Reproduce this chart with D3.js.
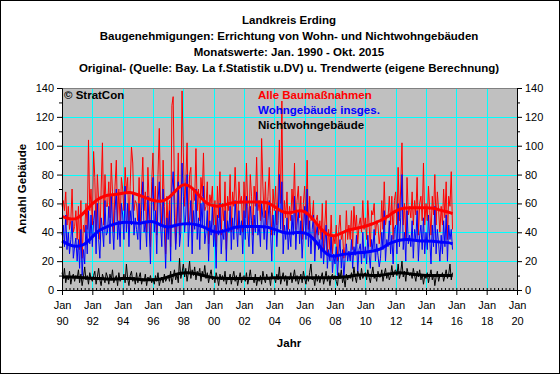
<!DOCTYPE html>
<html>
<head>
<meta charset="utf-8">
<script src="https://cdn.jsdelivr.net/npm/d3@7"></script>
<style>
  body { margin: 0; background: #fff; }
  text { font-family: "Liberation Sans", Arial, sans-serif; }
  .title { font-size: 11.5px; font-weight: bold; }
  .tick text { font-size: 11px; }
  .lbl { font-size: 11.5px; font-weight: bold; }
</style>
</head>
<body>
<div id="chart"></div>
<script>
// ---------- DATA ----------
// monthly values, Jan 1990 - Oct 2015
const alleBau = [
  58, 62, 55, 68, 45, 58, 42, 48, 70, 40, 44, 55, // 1990
  35, 58, 28, 62, 22, 45, 40, 60, 42, 104, 55, 70, // 1991
  45, 96, 78, 38, 80, 62, 35, 70, 102, 45, 80, 58, // 1992
  58, 75, 50, 88, 68, 40, 72, 90, 48, 70, 45, 78, // 1993
  70, 55, 85, 68, 78, 42, 72, 99, 88, 55, 62, 60, // 1994
  48, 78, 45, 70, 92, 55, 68, 40, 85, 60, 30, 75, // 1995
  95, 55, 72, 38, 80, 112, 60, 45, 90, 58, 25, 65, // 1996
  40, 62, 30, 128, 134, 70, 32, 58, 95, 38, 50, 138, // 1997
  95, 58, 75, 102, 45, 80, 85, 40, 70, 62, 98, 55, // 1998
  70, 48, 78, 65, 95, 55, 58, 75, 32, 66, 60, 72, // 1999
  45, 62, 30, 72, 50, 82, 38, 60, 48, 75, 28, 65, // 2000
  55, 80, 40, 68, 58, 85, 62, 42, 75, 60, 65, 40, // 2001
  75, 50, 88, 58, 45, 80, 65, 38, 72, 58, 92, 55, // 2002
  62, 48, 105, 72, 50, 75, 45, 65, 85, 55, 38, 70, // 2003
  55, 72, 45, 68, 104, 60, 131, 40, 62, 50, 68, 42, // 2004
  58, 48, 70, 55, 88, 42, 62, 72, 50, 65, 35, 60, // 2005
  72, 45, 90, 42, 65, 48, 50, 62, 28, 48, 52, 38, // 2006
  48, 35, 60, 28, 45, 62, 25, 42, 28, 52, 25, 38, // 2007
  32, 45, 20, 42, 52, 35, 40, 22, 30, 55, 35, 45, // 2008
  35, 55, 28, 58, 42, 52, 32, 45, 50, 40, 62, 42, // 2009
  50, 35, 62, 45, 30, 55, 52, 60, 38, 48, 45, 32, // 2010
  40, 62, 42, 75, 45, 52, 50, 65, 45, 65, 35, 62, // 2011
  68, 45, 85, 48, 70, 102, 45, 60, 35, 78, 52, 58, // 2012
  50, 68, 45, 62, 52, 78, 38, 60, 65, 48, 88, 45, // 2013
  60, 48, 72, 55, 38, 65, 52, 80, 45, 68, 55, 40, // 2014
  58, 45, 70, 50, 75, 35, 65, 58, 82, 42          // 2015
];

const wohnGeb = [
  38, 45, 30, 52, 28, 40, 25, 35, 48, 22, 30, 36,
  20, 35, 15, 42, 10, 28, 18, 45, 25, 55, 32, 52,
  30, 48, 55, 25, 60, 35, 22, 50, 42, 30, 62, 38,
  40, 58, 32, 65, 45, 28, 55, 70, 35, 48, 30, 60,
  52, 35, 72, 40, 60, 30, 55, 45, 68, 38, 50, 42,
  35, 60, 28, 55, 75, 40, 48, 30, 65, 45, 18, 58,
  78, 40, 55, 25, 62, 75, 45, 30, 70, 42, 15, 50,
  35, 55, 20, 70, 82, 50, 28, 45, 75, 30, 40, 88,
  65, 40, 52, 80, 30, 48, 62, 25, 55, 42, 70, 35,
  50, 28, 60, 45, 72, 32, 40, 55, 20, 48, 38, 58,
  30, 45, 15, 52, 38, 60, 25, 42, 35, 55, 20, 48,
  40, 58, 28, 50, 35, 62, 45, 30, 55, 38, 48, 25,
  55, 35, 65, 42, 30, 58, 48, 25, 52, 40, 68, 38,
  45, 30, 60, 50, 35, 55, 28, 48, 62, 40, 20, 52,
  38, 55, 30, 48, 80, 42, 75, 25, 45, 35, 50, 28,
  42, 30, 52, 38, 65, 28, 45, 55, 32, 48, 22, 40,
  58, 35, 70, 30, 48, 25, 42, 52, 20, 38, 45, 28,
  35, 22, 40, 18, 32, 45, 15, 28, 20, 38, 12, 25,
  18, 30, 10, 25, 35, 15, 28, 8, 22, 32, 20, 27,
  20, 35, 15, 30, 24, 38, 12, 28, 32, 18, 40, 22,
  30, 18, 38, 25, 15, 35, 28, 42, 20, 32, 24, 16,
  22, 40, 28, 55, 20, 35, 30, 48, 25, 38, 18, 42,
  45, 25, 60, 30, 50, 80, 28, 40, 20, 55, 32, 38,
  30, 48, 22, 42, 35, 55, 20, 38, 45, 28, 50, 25,
  40, 28, 52, 35, 18, 45, 30, 58, 25, 42, 32, 20,
  38, 25, 48, 30, 52, 20, 45, 35, 42, 28
];

const nichtWohn = [
  12, 8, 15, 5, 10, 7, 13, 4, 9, 11, 6, 10,
  8, 14, 5, 11, 3, 9, 16, 7, 10, 4, 12, 8,
  6, 10, 13, 4, 9, 15, 7, 3, 11, 8, 5, 12,
  9, 4, 11, 7, 14, 5, 8, 10, 3, 12, 6, 9,
  7, 11, 5, 18, 8, 3, 10, 13, 6, 9, 4, 12,
  5, 9, 12, 4, 8, 6, 11, 3, 9, 7, 10, 5,
  8, 4, 10, 6, 12, 3, 7, 9, 5, 11, 6, 8,
  10, 6, 13, 4, 9, 14, 7, 11, 5, 22, 8, 12,
  18, 9, 15, 6, 12, 20, 8, 14, 10, 16, 7, 13,
  11, 15, 6, 13, 9, 17, 8, 12, 5, 10, 14, 7,
  9, 5, 12, 8, 3, 11, 7, 10, 6, 13, 4, 9,
  7, 11, 4, 9, 13, 6, 10, 3, 8, 12, 5, 9,
  10, 6, 12, 4, 8, 14, 7, 9, 5, 11, 3, 8,
  6, 10, 4, 13, 8, 5, 11, 7, 9, 3, 12, 8,
  9, 5, 11, 7, 16, 4, 8, 12, 6, 10, 3, 9,
  7, 12, 5, 9, 14, 6, 10, 4, 8, 11, 5, 13,
  8, 4, 10, 6, 12, 18, 7, 9, 3, 11, 6, 10,
  5, 9, 12, 4, 8, 13, 6, 10, 3, 9, 11, 7,
  10, 6, 3, 12, 8, 14, 5, 9, 2, 11, 7, 10,
  8, 12, 6, 16, 9, 5, 13, 10, 7, 15, 8, 11,
  12, 7, 14, 9, 5, 11, 16, 8, 10, 6, 13, 9,
  9, 14, 6, 11, 15, 8, 12, 7, 10, 17, 9, 13,
  14, 10, 18, 8, 12, 20, 9, 13, 6, 15, 11, 10,
  12, 8, 15, 10, 6, 13, 9, 14, 7, 11, 4, 10,
  8, 12, 5, 10, 14, 7, 11, 3, 9, 13, 6, 10,
  9, 12, 6, 10, 14, 8, 11, 18, 7, 12
];

// trend values every 6 months (Jan / Jul), last point Oct 2015
const trendAlle = [
  51, 49, 49, 54, 60, 64, 66, 66, 67, 68, 66, 64, 62, 61, 63, 69, 74, 72,
  66, 60, 58, 58, 60, 61, 61, 61, 61, 61, 58, 54, 53, 55, 55, 50, 43, 38,
  37, 40, 42, 43, 44, 46, 48, 51, 55, 57, 57, 57, 57, 57, 55, 54, 53
];
const trendWohn = [
  34, 31, 30, 31, 37, 42, 44, 46, 47, 47, 46, 47, 48, 45, 43, 45, 46, 46,
  45, 43, 40, 40, 42, 44, 44, 44, 44, 44, 42, 40, 39, 40, 40, 37, 30, 24,
  23, 25, 25, 26, 26, 27, 28, 32, 34, 35, 35, 34, 34, 34, 33, 33, 32
];
const trendNicht = [
  9, 9, 9, 8.5, 8, 8, 7.5, 7.5, 8, 8, 7.5, 7, 7, 7.5, 9, 11, 12, 12,
  11, 9.5, 8.5, 8, 8, 8, 8, 8, 8, 8, 8.5, 8.5, 8.5, 8.5, 8.5, 8.5, 8.5, 8.5,
  8.5, 9, 9.5, 10.5, 10.5, 10, 10, 11, 12, 12, 11, 10.5, 10, 10, 10, 10, 10
];

const titleLines = [
  "Landkreis Erding",
  "Baugenehmigungen: Errichtung von Wohn- und Nichtwohngebäuden",
  "Monatswerte: Jan. 1990 - Okt. 2015",
  "Original- (Quelle: Bay. La f.Statistik u.DV) u. Trendwerte (eigene Berechnung)"
];
const legendNames = ["Alle Baumaßnahmen", "Wohngebäude insges.", "Nichtwohngebäude"];
const colors = ["#ff0000", "#0000ff", "#000000"];
const yTicks = [0, 20, 40, 60, 80, 100, 120, 140];

// ---------- CHART ----------
const W = 560, H = 374;
const pLeft = 62, pRight = 517, pTop = 88, pBottom = 290;

const svg = d3.select("#chart").append("svg")
  .attr("width", W).attr("height", H);

svg.append("rect")
  .attr("x", 0.5).attr("y", 0.5)
  .attr("width", W - 1).attr("height", H - 1)
  .attr("fill", "#fff").attr("stroke", "#000");

const x = d3.scaleTime()
  .domain([new Date(1990, 0, 1), new Date(2020, 0, 1)])
  .range([pLeft, pRight]);
const y = d3.scaleLinear().domain([0, 140]).range([pBottom, pTop]);

const monthDate = (i) => new Date(1990, i, 1);
const trendIdx = d3.range(0, 312, 6).concat([309]);

// plot area
svg.append("rect")
  .attr("x", pLeft).attr("y", pTop)
  .attr("width", pRight - pLeft).attr("height", pBottom - pTop)
  .attr("fill", "#c0c0c0");

// grid
const grid = svg.append("g").attr("stroke", "#00ffff").attr("stroke-width", 1);
grid.selectAll(".gy")
  .data(yTicks.filter((d) => d > 0 && d < 140))
  .enter().append("line")
  .attr("x1", pLeft).attr("x2", pRight)
  .attr("y1", (d) => Math.round(y(d)) + 0.5).attr("y2", (d) => Math.round(y(d)) + 0.5);
const yearTicks = d3.timeYear.every(2).range(new Date(1990, 0, 1), new Date(2020, 0, 2));
grid.selectAll(".gx")
  .data(yearTicks.slice(1, -1))
  .enter().append("line")
  .attr("y1", pTop).attr("y2", pBottom)
  .attr("x1", (d) => Math.round(x(d)) + 0.5).attr("x2", (d) => Math.round(x(d)) + 0.5);

svg.append("line")
  .attr("x1", pLeft).attr("x2", pRight)
  .attr("y1", pTop + 0.5).attr("y2", pTop + 0.5)
  .attr("stroke", "#808080");

// raw series
const rawLine = d3.line()
  .x((d, i) => x(monthDate(i)))
  .y((d) => y(d));
[alleBau, wohnGeb, nichtWohn].forEach((s, k) => {
  svg.append("path")
    .datum(s)
    .attr("fill", "none")
    .attr("stroke", colors[k])
    .attr("stroke-width", 1)
    .attr("d", rawLine);
});

// trend series
const trendLine = d3.line()
  .x((d, i) => x(monthDate(trendIdx[i])))
  .y((d) => y(d))
  .curve(d3.curveBasis);
[trendAlle, trendWohn, trendNicht].forEach((s, k) => {
  svg.append("path")
    .datum(s)
    .attr("fill", "none")
    .attr("stroke", colors[k])
    .attr("stroke-width", 3)
    .attr("d", trendLine);
});

// axes
const yMinor = [10, 30, 50, 70, 90, 110, 130];
svg.append("g")
  .attr("transform", `translate(${pLeft},0)`)
  .call(d3.axisLeft(y).tickValues(yTicks).tickSize(5).tickPadding(3));
svg.append("g")
  .attr("transform", `translate(${pLeft},0)`)
  .call(d3.axisLeft(y).tickValues(yMinor).tickSize(3).tickFormat(""))
  .select(".domain").remove();
svg.append("g")
  .attr("transform", `translate(${pRight},0)`)
  .call(d3.axisRight(y).tickValues(yTicks).tickSize(5).tickPadding(3));
svg.append("g")
  .attr("transform", `translate(${pRight},0)`)
  .call(d3.axisRight(y).tickValues(yMinor).tickSize(3).tickFormat(""))
  .select(".domain").remove();

const xAxis = svg.append("g")
  .attr("transform", `translate(0,${pBottom})`)
  .call(d3.axisBottom(x).tickValues(yearTicks).tickSize(5).tickFormat(""));
xAxis.selectAll(".tick").append("text")
  .attr("fill", "#000").attr("text-anchor", "middle")
  .selectAll("tspan")
  .data((d) => ["Jan", d3.timeFormat("%y")(d)])
  .enter().append("tspan")
  .attr("x", 0)
  .attr("y", (d, i) => 19 + i * 16)
  .text((d) => d);
svg.append("g")
  .attr("transform", `translate(0,${pBottom})`)
  .call(d3.axisTop(x).ticks(d3.timeMonth.every(3)).tickSize(2).tickFormat(""))
  .select(".domain").remove();

svg.selectAll(".domain, .tick line").attr("stroke", "#000");
svg.selectAll(".tick text").attr("fill", "#000").style("font-size", "11px");

// titles
svg.selectAll(".title")
  .data(titleLines)
  .enter().append("text")
  .classed("title", true)
  .attr("x", 289)
  .attr("y", (d, i) => 24 + i * 16)
  .attr("text-anchor", "middle")
  .text((d) => d);

// legend inside plot
svg.selectAll(".legend")
  .data(legendNames)
  .enter().append("text")
  .classed("lbl", true)
  .attr("x", 258)
  .attr("y", (d, i) => 99 + i * 15)
  .attr("fill", (d, i) => colors[i])
  .text((d) => d);

svg.append("text").classed("lbl", true)
  .attr("x", 64).attr("y", 99)
  .text("© StratCon");

svg.append("text").classed("lbl", true)
  .attr("transform", `translate(26,${(pTop + pBottom) / 2}) rotate(-90)`)
  .attr("text-anchor", "middle")
  .text("Anzahl Gebäude");

svg.append("text").classed("lbl", true)
  .attr("x", 289).attr("y", 347)
  .attr("text-anchor", "middle")
  .text("Jahr");
</script>
</body>
</html>
